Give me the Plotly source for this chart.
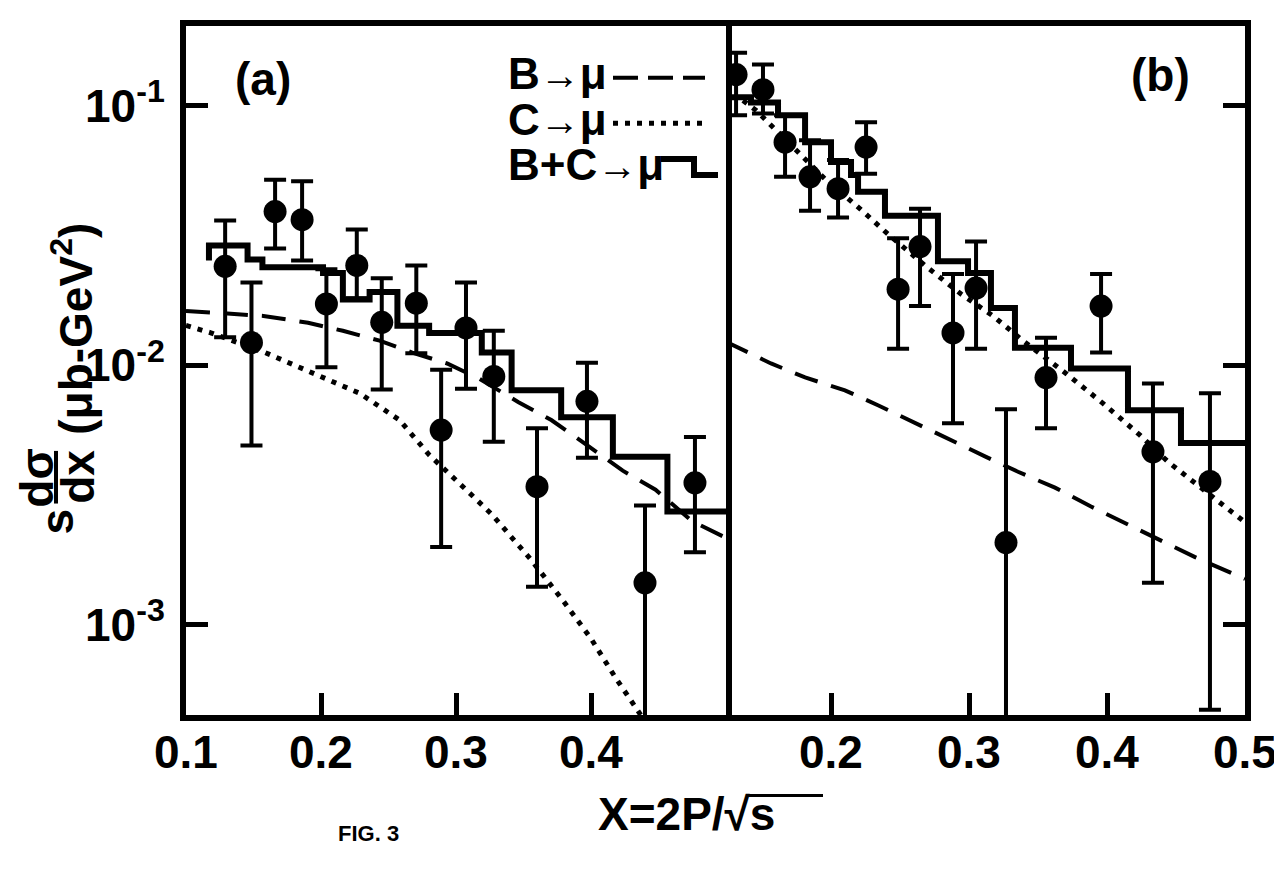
import plotly.graph_objects as go

# ---------------- data ----------------
# panel (a): measured points
a_x = [0.129, 0.1485, 0.166, 0.186, 0.204, 0.2265, 0.245, 0.2706, 0.289, 0.3074, 0.328, 0.360, 0.397, 0.440, 0.477]
a_y = [0.024, 0.0122, 0.039, 0.0363, 0.0172, 0.0242, 0.0146, 0.0173, 0.00562, 0.0139, 0.00904, 0.0034, 0.00725, 0.00145, 0.00352]
a_hi = [0.036, 0.0208, 0.0517, 0.051, 0.0234, 0.0333, 0.0216, 0.0242, 0.0096, 0.0208, 0.01355, 0.00571, 0.0102, 0.00288, 0.00528]
a_lo = [0.0128, 0.0049, 0.0281, 0.0253, 0.0098, 0.0181, 0.00805, 0.0111, 0.00199, 0.0081, 0.00506, 0.0014, 0.00439, 0.0001, 0.0019]

# panel (a): B+C -> mu histogram (bin edges, bin values)
a_edges = [0.117, 0.1456, 0.1566, 0.2015, 0.2162, 0.236, 0.2566, 0.2801, 0.3191, 0.3412, 0.3779, 0.4162, 0.4566, 0.5]
a_hist = [0.0289, 0.0255, 0.0238, 0.0226, 0.0179, 0.0191, 0.01416, 0.0133, 0.01117, 0.008, 0.0063, 0.00443, 0.00273]
a_hist_start = 0.0253

# panel (a): B -> mu (dashed) and C -> mu (dotted) curves
a_b_x = [0.1, 0.1574, 0.1904, 0.2162, 0.2434, 0.2676, 0.2934, 0.3169, 0.3463, 0.3706, 0.3978, 0.4235, 0.4478, 0.475, 0.5]
a_b_y = [0.01616, 0.01546, 0.01454, 0.01355, 0.01241, 0.01117, 0.01014, 0.00888, 0.00719, 0.00614, 0.00488, 0.00392, 0.00331, 0.0025, 0.00216]
a_c_x = [0.1, 0.1184, 0.1588, 0.1971, 0.2287, 0.2581, 0.2801, 0.3096, 0.3265, 0.3551, 0.3794, 0.4, 0.4184, 0.4368]
a_c_y = [0.0142, 0.01331, 0.01116, 0.00912, 0.00778, 0.00614, 0.00451, 0.00323, 0.00266, 0.00179, 0.001235, 0.000884, 0.000622, 0.000449]

# panel (b): measured points
b_x = [0.1312, 0.1507, 0.1667, 0.1848, 0.2051, 0.2254, 0.2486, 0.2645, 0.2884, 0.3051, 0.3268, 0.3558, 0.3957, 0.4333, 0.4746]
b_y = [0.1315, 0.115, 0.0722, 0.0531, 0.0478, 0.0691, 0.0196, 0.0286, 0.0133, 0.0198, 0.00207, 0.00895, 0.01688, 0.00463, 0.00356]
b_hi = [0.1596, 0.1436, 0.0916, 0.0735, 0.0616, 0.0861, 0.0308, 0.040, 0.0224, 0.0299, 0.00676, 0.01274, 0.0224, 0.00849, 0.00778]
b_lo = [0.0916, 0.093, 0.0531, 0.0393, 0.037, 0.0545, 0.01156, 0.0169, 0.00597, 0.01156, 0.0001, 0.00571, 0.01117, 0.00145, 0.00047]

# panel (b): histogram
b_edges = [0.1239, 0.142, 0.1616, 0.1812, 0.2, 0.2145, 0.2196, 0.2391, 0.2775, 0.2993, 0.3159, 0.3333, 0.3739, 0.4152, 0.4536, 0.5]
b_hist = [0.1074, 0.1027, 0.0916, 0.0722, 0.0605, 0.054, 0.0465, 0.0376, 0.0251, 0.0226, 0.0166, 0.01167, 0.0097, 0.0067, 0.00501]

# panel (b): curves
b_b_x = [0.1239, 0.1565, 0.1812, 0.2101, 0.234, 0.2609, 0.287, 0.3123, 0.3355, 0.3623, 0.3884, 0.4152, 0.4406, 0.4638, 0.4891, 0.5]
b_b_y = [0.0123, 0.01014, 0.00896, 0.00799, 0.0070, 0.00597, 0.00514, 0.00443, 0.00388, 0.00337, 0.00285, 0.00243, 0.0021, 0.00182, 0.00159, 0.0015]
b_c_x = [0.1362, 0.1457, 0.1761, 0.1964, 0.2217, 0.2391, 0.2688, 0.2942, 0.3174, 0.3391, 0.3703, 0.3971, 0.4239, 0.4442, 0.4819, 0.5]
b_c_y = [0.1045, 0.0957, 0.0661, 0.0516, 0.0397, 0.0327, 0.024, 0.01877, 0.01546, 0.01241, 0.00928, 0.00712, 0.00537, 0.00424, 0.00295, 0.00248]

# axes
y_tickvals = [0.1, 0.01, 0.001]
y_ticktext = ["10<sup>-1</sup>", "10<sup>-2</sup>", "10<sup>-3</sup>"]
a_tickvals = [0.1, 0.2, 0.3, 0.4]
a_ticktext = ["0.1", "0.2", "0.3", "0.4"]
b_tickvals = [0.2, 0.3, 0.4, 0.5]
b_ticktext = ["0.2", "0.3", "0.4", "0.5"]
y_log_range = [-3.348, -0.69407]

# ---------------- layout geometry ----------------
W, H = 1282, 871
L, R, T, B = 178, 45, 13, 164
PW = W - L - R
PH = H - T - B
split = (718 - L) / PW


def px(xp):
    return (xp - L) / PW


def py(yp):
    return (H - B - yp) / PH


FONT = "Liberation Sans, Arial, Helvetica, sans-serif"
BLACK = "black"

fig = go.Figure()


def hist_xy(edges, vals, start=None):
    xs = list(edges)
    ys = list(vals) + [vals[-1]]
    if start is not None:
        xs = [edges[0]] + xs
        ys = [start] + ys
    return xs, ys


def add_panel(xa, ya, pts_x, pts_y, hi, lo, edges, hist, bx, by, cx, cy, start=None):
    hx, hy = hist_xy(edges, hist, start)
    fig.add_trace(go.Scatter(x=hx, y=hy, mode="lines", line=dict(shape="hv", color=BLACK, width=6),
                             xaxis=xa, yaxis=ya, showlegend=False, hoverinfo="skip"))
    fig.add_trace(go.Scatter(x=bx, y=by, mode="lines", line=dict(color=BLACK, width=4, dash="24px,14px"),
                             xaxis=xa, yaxis=ya, showlegend=False, hoverinfo="skip"))
    fig.add_trace(go.Scatter(x=cx, y=cy, mode="lines", line=dict(color=BLACK, width=5, dash="5px,7px"),
                             xaxis=xa, yaxis=ya, showlegend=False, hoverinfo="skip"))
    fig.add_trace(go.Scatter(
        x=pts_x, y=pts_y, mode="markers",
        marker=dict(size=23, color=BLACK),
        error_y=dict(type="data", symmetric=False,
                     array=[h - v for h, v in zip(hi, pts_y)],
                     arrayminus=[v - l for v, l in zip(pts_y, lo)],
                     color=BLACK, thickness=4, width=11),
        xaxis=xa, yaxis=ya, showlegend=False))


add_panel("x", "y", a_x, a_y, a_hi, a_lo, a_edges, a_hist, a_b_x, a_b_y, a_c_x, a_c_y, a_hist_start)
add_panel("x2", "y2", b_x, b_y, b_hi, b_lo, b_edges, b_hist, b_b_x, b_b_y, b_c_x, b_c_y)

axis_common = dict(showline=True, linewidth=6, linecolor=BLACK, showgrid=False, zeroline=False,
                   ticks="inside", ticklen=22, tickwidth=5, tickcolor=BLACK,
                   tickfont=dict(size=46, family=FONT, color=BLACK, weight="bold"))

fig.update_layout(
    width=W, height=H,
    margin=dict(l=L, r=R, t=T, b=B),
    paper_bgcolor="white", plot_bgcolor="white",
    font=dict(family=FONT, color=BLACK, weight="bold"),
    showlegend=False,
    xaxis=dict(domain=[0, split], range=[0.1, 0.5], anchor="y", mirror=True,
               tickvals=a_tickvals, showticklabels=False, **axis_common),
    yaxis=dict(type="log", range=y_log_range, anchor="x", mirror=True,
               tickvals=y_tickvals, ticktext=y_ticktext, ticklabelstandoff=6, **axis_common),
    xaxis2=dict(domain=[split, 1], range=[b_edges[0], 0.5], anchor="y2", mirror=True,
                tickvals=b_tickvals, showticklabels=False, **axis_common),
    yaxis2=dict(type="log", range=y_log_range, anchor="x2", side="right", mirror=False,
                tickvals=y_tickvals, showticklabels=False, **axis_common),
)

anns = []


def ann(text, xp, yp, size=46, angle=0, xanchor="center"):
    anns.append(dict(text=text, x=px(xp), y=py(yp), xref="paper", yref="paper", showarrow=False,
                     xanchor=xanchor, yanchor="middle", textangle=angle,
                     font=dict(size=size, family=FONT, color=BLACK, weight="bold")))


# x tick labels, placed at the tick values of each panel's x axis
for xref, vals, texts in (("x", a_tickvals, a_ticktext), ("x2", b_tickvals, b_ticktext)):
    for v, t in zip(vals, texts):
        anns.append(dict(text=t, x=v, xref=xref, y=py(744), yref="paper", showarrow=False,
                         xanchor="center", yanchor="middle",
                         font=dict(size=46, family=FONT, color=BLACK, weight="bold")))

# panel labels
ann("(a)", 255, 66)
ann("(b)", 1152, 62)
# legend text
arrow = "<span style='font-size:40px'>→</span>"
ann("B" + arrow + "μ", 498, 61, size=44, xanchor="left")
ann("C" + arrow + "μ", 498, 107, size=44, xanchor="left")
ann("B+C" + arrow + "μ", 498, 153, size=44, xanchor="left")
# x axis title and figure caption
ann("X=2P/√s", 588, 807, xanchor="left")
ann("FIG. 3", 360, 826, size=22)
# y axis title pieces
ann("s", 49, 512, angle=-90)
ann("dσ", 29, 468, angle=-90)
ann("dx", 70, 467, angle=-90)
ann("(μb-GeV<sup>2</sup>)", 64, 318, angle=-90)

shapes = [
    # fraction bar
    dict(type="line", xref="paper", yref="paper", x0=px(48), x1=px(48), y0=py(441), y1=py(494),
         line=dict(color=BLACK, width=4)),
    # overline of sqrt(s)
    dict(type="line", xref="paper", yref="paper", x0=px(738), x1=px(815), y0=py(788), y1=py(788),
         line=dict(color=BLACK, width=3)),
    # legend samples
    dict(type="line", xref="paper", yref="paper", x0=px(605), x1=px(697), y0=py(65), y1=py(65),
         line=dict(color=BLACK, width=4, dash="25px,10px")),
    dict(type="line", xref="paper", yref="paper", x0=px(605), x1=px(695), y0=py(111), y1=py(111),
         line=dict(color=BLACK, width=5, dash="5px,7px")),
    dict(type="path", xref="paper", yref="paper",
         path=f"M {px(653)},{py(147)} L {px(686)},{py(147)} L {px(686)},{py(163)} L {px(710)},{py(163)}",
         line=dict(color=BLACK, width=6)),
]

fig.update_layout(annotations=anns, shapes=shapes)

fig.write_html("out.html")
